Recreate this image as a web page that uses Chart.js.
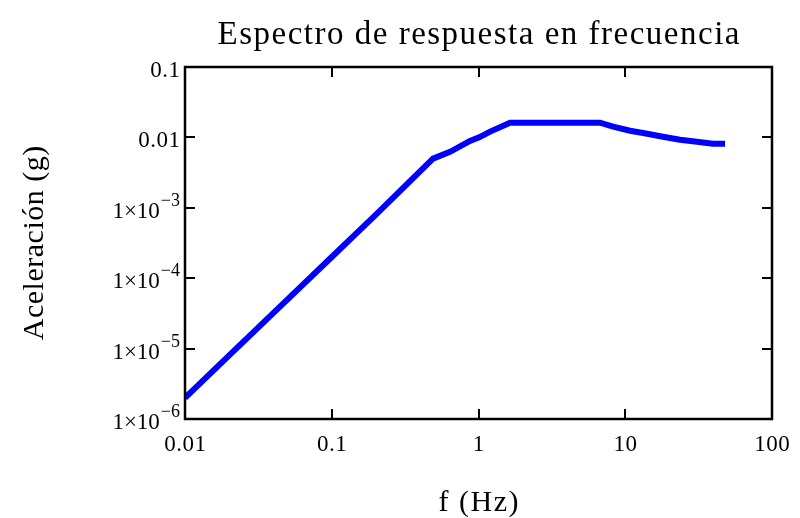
<!DOCTYPE html>
<html>
<head>
<meta charset="utf-8">
<script src="https://cdn.jsdelivr.net/npm/chart.js@4"></script>
<style>
  html, body { margin: 0; padding: 0; background: #ffffff; }
  #wrap { width: 800px; height: 518px; }
</style>
</head>
<body>
<div id="wrap"><canvas id="c" width="800" height="518"></canvas></div>
<script>
// Response spectrum: frequency (Hz) vs. acceleration (g)
const freqHz = [0.01, 0.02, 0.05, 0.1, 0.2, 0.49, 0.64, 0.875, 1.02, 1.2, 1.64, 6.73, 8.26, 10.8, 14.1, 18.1, 23.6, 30.8, 39.6, 47.9];
const accelG = [2.0e-6, 8.0e-6, 5.0e-5, 2.0e-4, 8.0e-4, 5.0e-3, 6.25e-3, 8.9e-3, 0.0101, 0.0121, 0.0162, 0.0162, 0.0142, 0.01245, 0.01127, 0.0102, 0.00925, 0.00867, 0.00811, 0.0081];

const xTickValues = [0.01, 0.1, 1, 10, 100];
const xTickLabels = ['0.01', '0.1', '1', '10', '100'];
const yTickValues = [1e-6, 1e-5, 1e-4, 1e-3, 0.01, 0.1];
const yTickBase = ['1\u00d710', '1\u00d710', '1\u00d710', '1\u00d710', '0.01', '0.1'];
const yTickExp = ['\u22126', '\u22125', '\u22124', '\u22123', '', ''];

const titleText = 'Espectro de respuesta en frecuencia';
const xTitleText = 'f (Hz)';
const yTitleText = 'Aceleraci\u00f3n (g)';

const SERIF = '"Liberation Serif", "Times New Roman", serif';

function drawText(ctx, text, x, y, size, align, spacing) {
  ctx.save();
  ctx.font = size + 'px ' + SERIF;
  ctx.letterSpacing = (spacing || 0) + 'px';
  ctx.textBaseline = 'alphabetic';
  ctx.fillStyle = '#000000';
  // measure so that trailing letter spacing does not shift centred text
  const w = ctx.measureText(text).width - (spacing || 0);
  let x0 = x;
  if (align === 'center') x0 = x - w / 2;
  else if (align === 'right') x0 = x - w;
  ctx.textAlign = 'left';
  ctx.fillText(text, x0, y);
  ctx.restore();
}

function textWidth(ctx, text, size) {
  ctx.save();
  ctx.font = size + 'px ' + SERIF;
  const w = ctx.measureText(text).width;
  ctx.restore();
  return w;
}

// Frame, inward ticks on all four sides, tick labels and titles
const framePlugin = {
  id: 'frame',
  afterDraw(chart) {
    const ctx = chart.ctx;
    const a = chart.chartArea;
    const xs = chart.scales.x, ys = chart.scales.y;
    const tickLen = 10;

    ctx.save();
    ctx.strokeStyle = '#000000';
    ctx.lineWidth = 2;
    ctx.beginPath();
    xTickValues.forEach(v => {
      const px = Math.round(xs.getPixelForValue(v));
      if (px > a.left + 1 && px < a.right - 1) {
        ctx.moveTo(px, a.bottom); ctx.lineTo(px, a.bottom - tickLen);
        ctx.moveTo(px, a.top); ctx.lineTo(px, a.top + tickLen);
      }
    });
    yTickValues.forEach(v => {
      const py = Math.round(ys.getPixelForValue(v));
      if (py > a.top + 1 && py < a.bottom - 1) {
        ctx.moveTo(a.left, py); ctx.lineTo(a.left + tickLen, py);
        ctx.moveTo(a.right, py); ctx.lineTo(a.right - tickLen, py);
      }
    });
    ctx.stroke();

    ctx.lineWidth = 2.5;
    ctx.strokeRect(a.left, a.top, a.right - a.left, a.bottom - a.top);
    ctx.restore();

    // x tick labels
    xTickValues.forEach((v, i) => {
      drawText(ctx, xTickLabels[i], xs.getPixelForValue(v), a.bottom + 32, 23, 'center', 0.5);
    });

    // y tick labels with superscript exponents
    yTickValues.forEach((v, i) => {
      const py = ys.getPixelForValue(v);
      const right = a.left - 5;
      if (yTickExp[i]) {
        const ew = textWidth(ctx, yTickExp[i], 18);
        drawText(ctx, yTickExp[i], right, py - 2, 18, 'right', 0);
        drawText(ctx, yTickBase[i], right - ew - 1, py + 10, 23, 'right', 0);
      } else {
        drawText(ctx, yTickBase[i], right, py + 10, 23, 'right', 0.5);
      }
    });

    // titles
    const cx = (a.left + a.right) / 2;
    drawText(ctx, titleText, cx, 44, 33, 'center', 1.5);
    drawText(ctx, xTitleText, cx, 511, 30, 'center', 1.5);

    ctx.save();
    ctx.translate(43, (a.top + a.bottom) / 2);
    ctx.rotate(-Math.PI / 2);
    drawText(ctx, yTitleText, 0, 0, 30, 'center', 0.5);
    ctx.restore();
  }
};

new Chart(document.getElementById('c'), {
  type: 'line',
  data: {
    datasets: [{
      data: freqHz.map((f, i) => ({ x: f, y: accelG[i] })),
      borderColor: '#0000ff',
      backgroundColor: '#0000ff',
      borderWidth: 6,
      pointRadius: 0,
      pointHoverRadius: 0,
      fill: false,
      tension: 0
    }]
  },
  options: {
    responsive: false,
    devicePixelRatio: 1,
    animation: false,
    events: [],
    layout: { padding: { top: 67, right: 28, left: 0, bottom: 0 } },
    plugins: { legend: { display: false }, title: { display: false }, tooltip: { enabled: false } },
    scales: {
      x: {
        type: 'logarithmic', min: 0.01, max: 100,
        ticks: { display: false }, grid: { display: false }, border: { display: false },
        afterFit(s) { s.height = 99; }
      },
      y: {
        type: 'logarithmic', min: 1e-6, max: 0.1,
        ticks: { display: false }, grid: { display: false }, border: { display: false },
        afterFit(s) { s.width = 185; }
      }
    }
  },
  plugins: [framePlugin]
});
</script>
</body>
</html>
